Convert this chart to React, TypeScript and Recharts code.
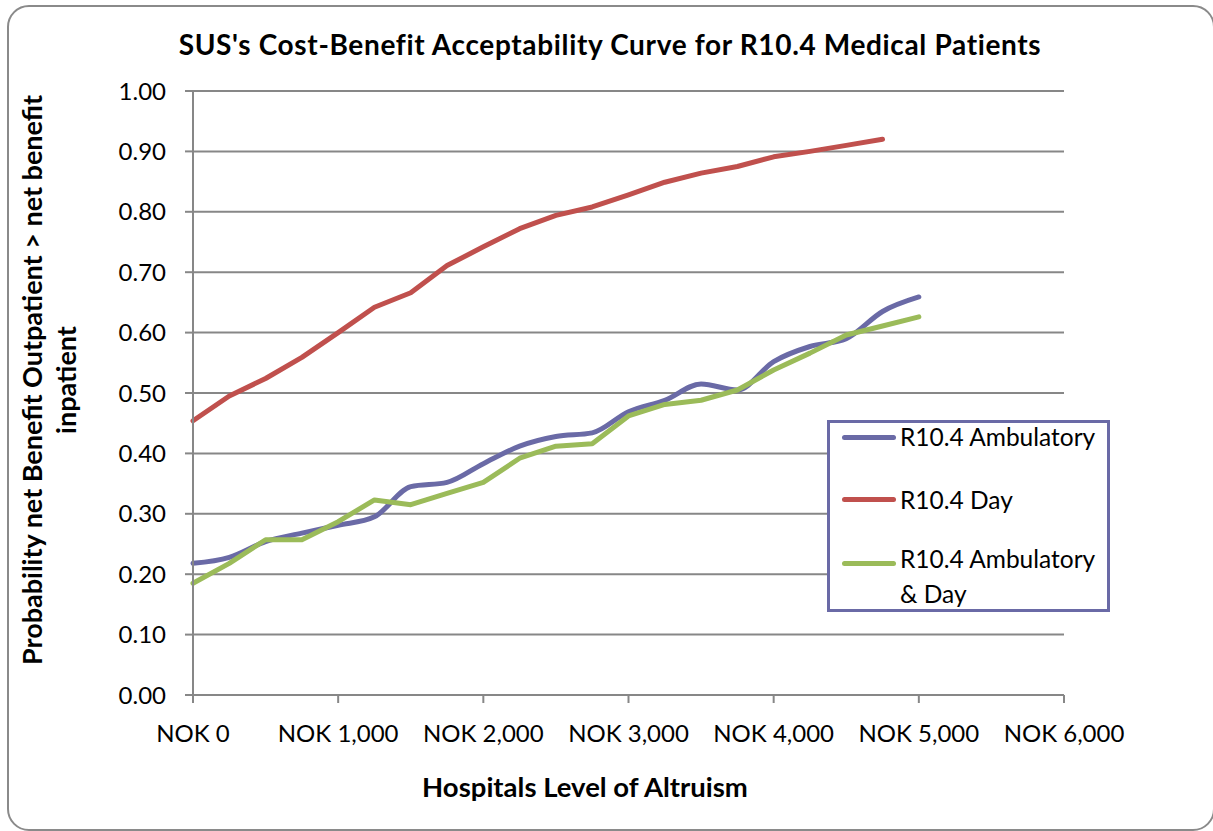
import React from 'react';
import { LineChart, Line, XAxis, YAxis, CartesianGrid, Legend } from 'recharts';

const altruism = [0, 250, 500, 750, 1000, 1250, 1500, 1750, 2000, 2250, 2500, 2750, 3000, 3250, 3500, 3750, 4000, 4250, 4500, 4750, 5000];
const ambulatory = [0.218, 0.228, 0.254, 0.268, 0.281, 0.295, 0.345, 0.352, 0.383, 0.412, 0.428, 0.434, 0.469, 0.488, 0.515, 0.505, 0.552, 0.577, 0.590, 0.635, 0.659];
const dayCare = [0.454, 0.495, 0.524, 0.559, 0.600, 0.642, 0.666, 0.711, 0.742, 0.772, 0.794, 0.808, 0.828, 0.849, 0.864, 0.875, 0.891, 0.900, 0.910, 0.920, null];
const ambulatoryAndDay = [0.185, 0.218, 0.257, 0.257, 0.287, 0.323, 0.315, 0.334, 0.352, 0.392, 0.412, 0.416, 0.462, 0.481, 0.488, 0.505, 0.538, 0.566, 0.596, 0.611, 0.626];

const xTicks = [0, 1000, 2000, 3000, 4000, 5000, 6000];
const yTicks = [0, 0.1, 0.2, 0.3, 0.4, 0.5, 0.6, 0.7, 0.8, 0.9, 1.0];
const seriesNames = ['R10.4 Ambulatory', 'R10.4 Day', 'R10.4 Ambulatory & Day'];

const title = "SUS's Cost-Benefit Acceptability Curve for R10.4 Medical Patients";
const xTitle = 'Hospitals Level of Altruism';
const yTitleLines = ['Probability net Benefit Outpatient > net benefit', 'inpatient'];

const data = altruism.map((x, i) => ({
  x,
  amb: ambulatory[i],
  day: dayCare[i],
  both: ambulatoryAndDay[i],
}));

const FONT = 'Lato, "Open Sans", sans-serif';
const BLUE = '#6A6AA6';
const RED = '#C0504D';
const GREEN = '#9BBB59';
const GRID = '#878787';

const fmtNok = (v: number) => `NOK ${v.toLocaleString('en-US')}`;

const legendRows = [
  { key: 'amb', name: seriesNames[0], color: BLUE, lineTop: 14, textTop: -4 },
  { key: 'day', name: seriesNames[1], color: RED, lineTop: 76, textTop: 59 },
  { key: 'both', name: seriesNames[2], color: GREEN, lineTop: 140, textTop: 118 },
];

const LegendBox = () => (
  <div
    style={{
      position: 'relative',
      width: 283,
      height: 192,
      border: `3px solid ${BLUE}`,
      boxSizing: 'border-box',
      background: '#fff',
      fontFamily: FONT,
      fontSize: 24.5,
      color: '#000',
    }}
  >
    {legendRows.map((r) => (
      <React.Fragment key={r.key}>
        <div
          style={{
            position: 'absolute',
            left: 12,
            top: r.lineTop - 2.5,
            width: 54,
            height: 5,
            borderRadius: 3,
            background: r.color,
          }}
        />
        <div
          style={{
            position: 'absolute',
            left: 70,
            top: r.textTop,
            width: 205,
            lineHeight: '35px',
            textAlign: 'left',
            whiteSpace: 'normal',
          }}
        >
          {r.name}
        </div>
      </React.Fragment>
    ))}
  </div>
);

export default function App() {
  return (
    <div style={{ position: 'absolute', left: 0, top: 0, width: 1213, height: 831, background: '#fff', overflow: 'hidden' }}>
      <div
        style={{
          position: 'absolute',
          left: 7,
          top: 5,
          width: 1208,
          height: 826,
          border: '2px solid #8a8a8a',
          borderRadius: 22,
          boxSizing: 'border-box',
        }}
      />
      <div style={{ position: 'absolute', left: 0, top: 0 }}>
        <LineChart
          width={1213}
          height={831}
          data={data}
          margin={{ top: 91, right: 149, left: 133, bottom: 76 }}
        >
          <CartesianGrid vertical={false} stroke={GRID} strokeWidth={2} />
          <XAxis
            dataKey="x"
            type="number"
            domain={[0, 6000]}
            ticks={xTicks}
            tickFormatter={fmtNok}
            height={60}
            stroke={GRID}
            strokeWidth={2}
            tickSize={8}
            tickMargin={22}
            tick={{ fill: '#000', fontFamily: FONT, fontSize: 24 }}
            interval={0}
          />
          <YAxis
            type="number"
            domain={[0, 1]}
            ticks={yTicks}
            tickFormatter={(v: number) => v.toFixed(2)}
            width={60}
            stroke={GRID}
            strokeWidth={2}
            tickSize={8}
            tickMargin={19}
            tick={{ fill: '#000', fontFamily: FONT, fontSize: 24 }}
            interval={0}
          />
          <Legend
            layout="horizontal"
            verticalAlign="middle"
            align="center"
            content={() => <LegendBox />}
            wrapperStyle={{ position: 'absolute', left: 827, top: 420, width: 283, height: 192 }}
          />
          <Line
            type="monotone"
            dataKey="amb"
            name={seriesNames[0]}
            stroke={BLUE}
            strokeWidth={5}
            dot={false}
            strokeLinecap="round"
            strokeLinejoin="round"
            isAnimationActive={false}
          />
          <Line
            type="linear"
            dataKey="day"
            name={seriesNames[1]}
            stroke={RED}
            strokeWidth={5}
            dot={false}
            strokeLinecap="round"
            strokeLinejoin="round"
            isAnimationActive={false}
          />
          <Line
            type="linear"
            dataKey="both"
            name={seriesNames[2]}
            stroke={GREEN}
            strokeWidth={5}
            dot={false}
            strokeLinecap="round"
            strokeLinejoin="round"
            isAnimationActive={false}
          />
        </LineChart>
      </div>
      <div
        style={{
          position: 'absolute',
          left: 60,
          top: 30,
          width: 1100,
          textAlign: 'center',
          fontFamily: FONT,
          fontWeight: 700,
          fontSize: 28,
          letterSpacing: 0.65,
          lineHeight: '28px',
          color: '#000',
          whiteSpace: 'nowrap',
        }}
      >
        {title}
      </div>
      <div
        style={{
          position: 'absolute',
          left: 285,
          top: 773,
          width: 600,
          textAlign: 'center',
          fontFamily: FONT,
          fontWeight: 700,
          fontSize: 27.5,
          lineHeight: '27px',
          color: '#000',
        }}
      >
        {xTitle}
      </div>
      <div
        style={{
          position: 'absolute',
          left: 49 - 330,
          top: 380 - 34,
          width: 660,
          height: 68,
          transform: 'rotate(-90deg)',
          textAlign: 'center',
          fontFamily: FONT,
          fontWeight: 700,
          fontSize: 27,
          lineHeight: '34px',
          color: '#000',
          whiteSpace: 'nowrap',
        }}
      >
        {yTitleLines.map((l) => (
          <div key={l}>{l}</div>
        ))}
      </div>
    </div>
  );
}
